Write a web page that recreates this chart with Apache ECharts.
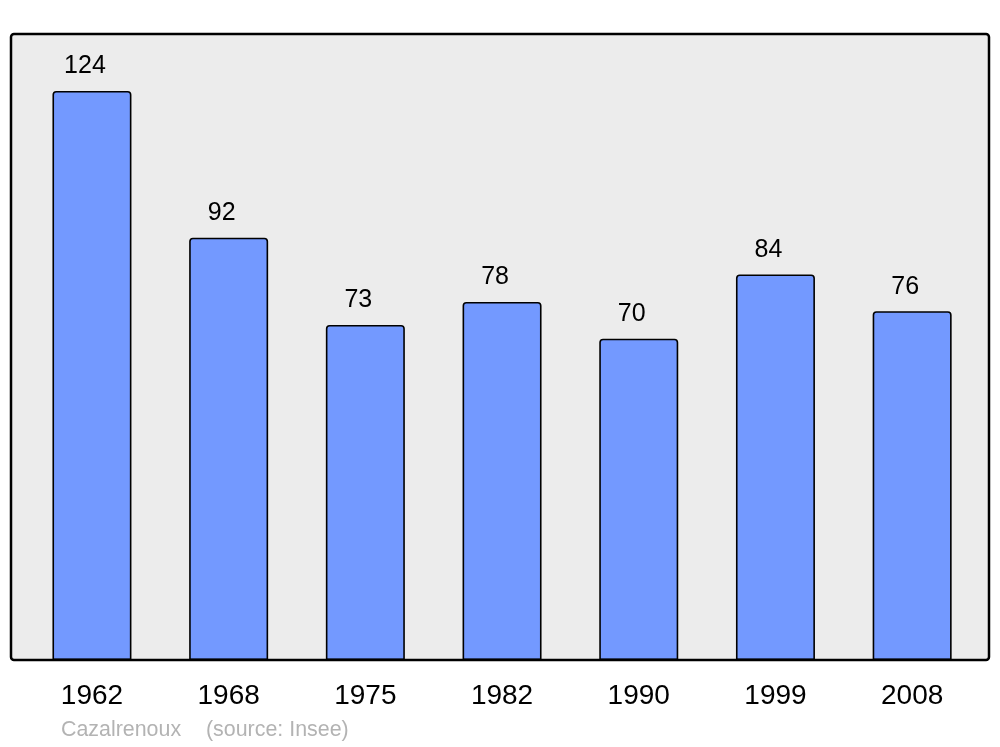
<!DOCTYPE html>
<html>
<head>
<meta charset="utf-8">
<script src="https://cdn.jsdelivr.net/npm/echarts@6/dist/echarts.min.js"></script>
<style>html,body{margin:0;padding:0;background:#fff}#c{width:1000px;height:747px}</style>
</head>
<body>
<div id="c"></div>
<script>
const years = ['1962','1968','1975','1982','1990','1999','2008'];
const population = [124, 92, 73, 78, 70, 84, 76];
const commune = 'Cazalrenoux';
const source = '(source: Insee)';

const chart = echarts.init(document.getElementById('c'), null, {renderer: 'canvas'});
const FONT = '"Liberation Sans", Arial, sans-serif';
chart.setOption({
  animation: false,
  backgroundColor: '#ffffff',
  grid: {left: 23.6, top: 34, width: 956.9, height: 626, containLabel: false},
  xAxis: {
    type: 'category', data: years,
    axisLine: {show: false}, axisTick: {show: false},
    axisLabel: {fontSize: 28, color: '#000', fontFamily: FONT, margin: 22}
  },
  yAxis: {type: 'value', min: 0, max: 136.4, show: false, splitLine: {show: false}},
  graphic: [
    {type: 'rect', z: -10, shape: {x: 11, y: 34, width: 978, height: 626, r: 3},
     style: {fill: '#ececec', stroke: null}},
    {type: 'rect', z: 100, shape: {x: 11, y: 34, width: 978, height: 626, r: 3},
     style: {fill: null, stroke: '#000', lineWidth: 2.5}},
    {type: 'text', x: 61, y: 730, style: {text: commune, fill: '#b3b3b3', font: '21.4px ' + FONT, textVerticalAlign: 'middle'}},
    {type: 'text', x: 206, y: 730, style: {text: source, fill: '#b3b3b3', font: '21.4px ' + FONT, textVerticalAlign: 'middle'}}
  ],
  series: [{
    type: 'bar', data: population, barWidth: 79,
    itemStyle: {color: '#7399ff', borderColor: '#000', borderWidth: 1.6, borderRadius: [3,3,0,0]},
    label: {show: true, position: 'top', distance: 12, offset: [-7, 0], fontSize: 25, color: '#000', fontFamily: FONT}
  }]
});
</script>
</body>
</html>
